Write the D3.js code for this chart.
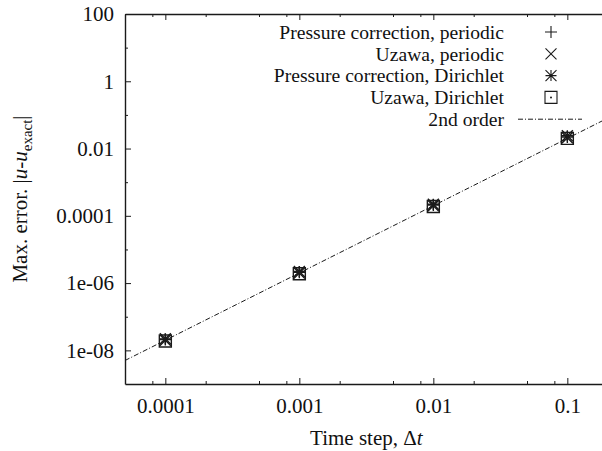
<!DOCTYPE html>
<html>
<head>
<meta charset="utf-8">
<script src="https://cdn.jsdelivr.net/npm/d3@7"></script>
<style>
  html, body { margin: 0; padding: 0; background: #fff; }
  svg { display: block; }
  svg text { font-family: "Liberation Serif", "Times New Roman", "DejaVu Serif", serif; }
</style>
</head>
<body>
<svg id="chart" width="602" height="451"></svg>
<script>
// Time steps used in the convergence study
const timeSteps = [1e-4, 1e-3, 1e-2, 1e-1];

// Maximum error for each scheme / boundary condition
const pcPeriodic    = [2.1e-8, 2.1e-6, 2.1e-4, 2.2e-2];
const uzPeriodic    = [2.0e-8, 2.0e-6, 2.0e-4, 2.1e-2];
const pcDirichlet   = [2.2e-8, 2.2e-6, 2.2e-4, 2.4e-2];
const uzDirichlet   = [1.9e-8, 1.9e-6, 1.9e-4, 2.0e-2];

// Reference slope: err = C * dt^2
const orderCoef = 2;

// Axis ticks
const xMajor = [1e-4, 1e-3, 1e-2, 1e-1];
const xMajorLabels = ["0.0001", "0.001", "0.01", "0.1"];
const xMinor = [8e-5, 2e-4, 5e-4, 8e-4, 2e-3, 5e-3, 8e-3, 2e-2, 5e-2, 8e-2];
const yMajor = [100, 1, 1e-2, 1e-4, 1e-6, 1e-8];
const yMajorLabels = ["100", "1", "0.01", "0.0001", "1e-06", "1e-08"];
const yMinor = [10, 1e-1, 1e-3, 1e-5, 1e-7];

const legendLabels = [
  "Pressure correction, periodic",
  "Uzawa, periodic",
  "Pressure correction, Dirichlet",
  "Uzawa, Dirichlet",
  "2nd order"
];

const xDomain = [5e-5, 0.2];
const yDomain = [1e-9, 100];

const svg = d3.select("#chart");
const plotL = 125, plotT = 14, plotB = 384;
const decadeX = 134;
const plotR = plotL + Math.log10(xDomain[1] / xDomain[0]) * decadeX;

const x = d3.scaleLog().domain(xDomain).range([plotL, plotR]);
const y = d3.scaleLog().domain(yDomain).range([plotB, plotT]);

const serif = "'Liberation Serif', 'Times New Roman', serif";
const fontSize = 21;
const legendFont = 19.6;
const ink = "#1a1a1a";

// Clip for the plot contents
svg.append("defs").append("clipPath").attr("id", "plotclip")
  .append("rect").attr("x", plotL).attr("y", plotT)
  .attr("width", plotR - plotL).attr("height", plotB - plotT);

function styleAxis(g) {
  g.attr("font-family", serif);
  g.selectAll(".domain").attr("stroke", ink).attr("stroke-width", 1.4);
  g.selectAll(".tick line").attr("stroke", ink).attr("stroke-width", 1);
  g.selectAll(".tick text").attr("fill", "#111")
    .attr("font-family", serif).style("font-size", fontSize + "px");
}

// Bottom axis: major ticks with labels, minor ticks inward
svg.append("g").attr("transform", `translate(0,${plotB})`)
  .call(d3.axisBottom(x).tickValues(xMajor).tickSizeInner(-6).tickSizeOuter(0)
    .tickPadding(14).tickFormat((d, i) => xMajorLabels[i]))
  .call(styleAxis);
svg.append("g").attr("transform", `translate(0,${plotB})`)
  .call(d3.axisBottom(x).tickValues(xMinor).tickSizeInner(-3).tickSizeOuter(0).tickFormat(""))
  .call(g => g.select(".domain").remove()).call(styleAxis);

// Top border with mirrored ticks
svg.append("g").attr("transform", `translate(0,${plotT})`)
  .call(d3.axisTop(x).tickValues(xMajor).tickSizeInner(-6).tickSizeOuter(0).tickFormat(""))
  .call(styleAxis);
svg.append("g").attr("transform", `translate(0,${plotT})`)
  .call(d3.axisTop(x).tickValues(xMinor).tickSizeInner(-3).tickSizeOuter(0).tickFormat(""))
  .call(g => g.select(".domain").remove()).call(styleAxis);

// Left axis
svg.append("g").attr("transform", `translate(${plotL},0)`)
  .call(d3.axisLeft(y).tickValues(yMajor).tickSizeInner(-6).tickSizeOuter(0)
    .tickPadding(11).tickFormat((d, i) => yMajorLabels[i]))
  .call(styleAxis);
svg.append("g").attr("transform", `translate(${plotL},0)`)
  .call(d3.axisLeft(y).tickValues(yMinor).tickSizeInner(-3).tickSizeOuter(0).tickFormat(""))
  .call(g => g.select(".domain").remove()).call(styleAxis);

// Axis titles
svg.append("text")
  .attr("x", (plotL + plotR) / 2).attr("y", 445)
  .attr("text-anchor", "middle").attr("font-family", serif)
  .style("font-size", fontSize + "px").attr("fill", "#111")
  .call(t => {
    t.append("tspan").text("Time step, Δ");
    t.append("tspan").attr("font-style", "italic").text("t");
  });

const yl = svg.append("text")
  .attr("transform", `translate(27,${(plotT + plotB) / 2}) rotate(-90)`)
  .attr("text-anchor", "middle").attr("font-family", serif)
  .style("font-size", fontSize + "px").attr("fill", "#111");
yl.append("tspan").text("Max. error. |");
yl.append("tspan").attr("font-style", "italic").text("u");
yl.append("tspan").text("-");
yl.append("tspan").attr("font-style", "italic").text("u");
yl.append("tspan").attr("dy", 5).style("font-size", "15px").text("exact");
yl.append("tspan").attr("dy", -5).text("|");

// Marker shapes
const markerPaths = {
  plus: s => `M${-s},0H${s}M0,${-s}V${s}`,
  cross: s => `M${-s},${-s}L${s},${s}M${-s},${s}L${s},${-s}`,
  star: s => `M${-s},0H${s}M0,${-s}V${s}M${-s},${-s}L${s},${s}M${-s},${s}L${s},${-s}`,
  box: s => `M${-s},${-s}H${s}V${s}H${-s}Z`
};

const series = [
  { values: pcPeriodic, shape: "plus", size: 6 },
  { values: uzPeriodic, shape: "cross", size: 5.5 },
  { values: pcDirichlet, shape: "star", size: 5.5 },
  { values: uzDirichlet, shape: "box", size: 6 }
];

const plot = svg.append("g").attr("clip-path", "url(#plotclip)");

// Second-order reference line
const lineGen = d3.line().x(d => x(d)).y(d => y(orderCoef * d * d));
plot.append("path")
  .datum(xDomain)
  .attr("d", lineGen)
  .attr("fill", "none").attr("stroke", ink).attr("stroke-width", 1)
  .attr("stroke-dasharray", "5,2,1,2");

// Data markers
series.forEach(s => {
  const g = plot.append("g");
  timeSteps.forEach((t, i) => {
    const px = x(t), py = y(s.values[i]);
    g.append("path").attr("transform", `translate(${px},${py})`)
      .attr("d", markerPaths[s.shape](s.size))
      .attr("fill", "none").attr("stroke", ink).attr("stroke-width", 1.4);
    if (s.shape === "box") {
      g.append("circle").attr("cx", px).attr("cy", py).attr("r", 1).attr("fill", ink);
    }
  });
});

// Legend
const legX = 504, symX = 551;
const rowY = [32, 53.8, 75.6, 97.4, 119.2];
legendLabels.forEach((lab, i) => {
  svg.append("text").attr("x", legX).attr("y", rowY[i]).attr("dy", "0.35em")
    .attr("text-anchor", "end").attr("font-family", serif)
    .style("font-size", legendFont + "px").attr("fill", "#111")
    .text(lab);
  if (i < series.length) {
    const s = series[i];
    svg.append("path").attr("transform", `translate(${symX},${rowY[i]})`)
      .attr("d", markerPaths[s.shape](s.size))
      .attr("fill", "none").attr("stroke", ink).attr("stroke-width", 1.1);
    if (s.shape === "box") {
      svg.append("circle").attr("cx", symX).attr("cy", rowY[i]).attr("r", 1).attr("fill", ink);
    }
  } else {
    svg.append("line").attr("x1", 518).attr("x2", 582)
      .attr("y1", rowY[i]).attr("y2", rowY[i])
      .attr("stroke", ink).attr("stroke-width", 1).attr("stroke-dasharray", "5,2,1,2");
  }
});
</script>
</body>
</html>
